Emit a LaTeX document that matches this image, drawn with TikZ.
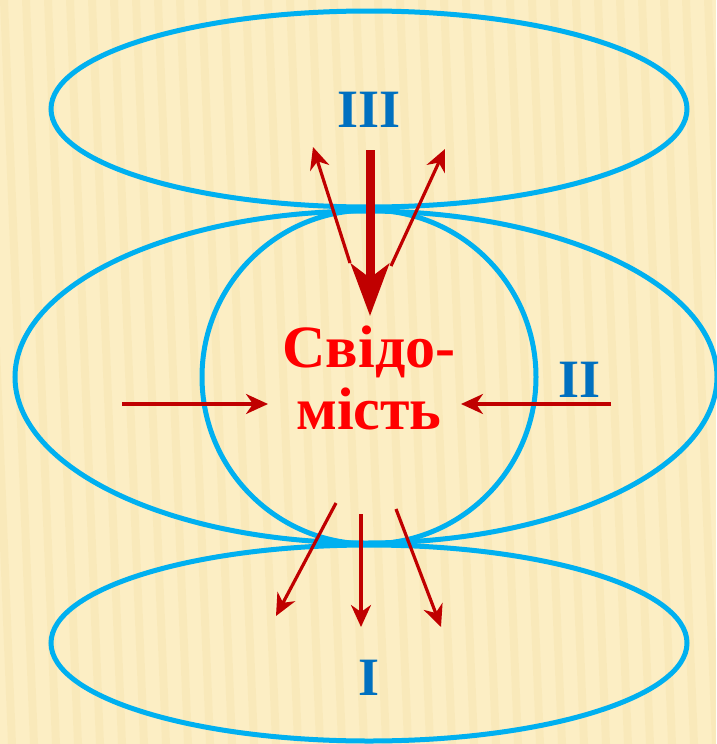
\documentclass[tikz,border=0pt]{standalone}
\usepackage{fontspec}
\setmainfont{Liberation Serif}
\usetikzlibrary{arrows.meta}
\definecolor{bg}{HTML}{FCEEC4}
\definecolor{stripe}{HTML}{F3DFA6}
\definecolor{ell}{HTML}{00B0F0}
\definecolor{arr}{HTML}{C00000}
\definecolor{roman}{HTML}{0070C0}
\definecolor{txt}{HTML}{FF0000}
\tikzset{
  ring/.style={draw=ell, line width=5pt},
  thinarrow/.style={draw=arr, line width=3.2pt, -{Stealth[length=22pt,width=20pt,inset=7pt]}},
  thickarrow/.style={draw=arr, line width=9pt, -{Stealth[length=52pt,width=38pt,inset=14pt]}},
  numeral/.style={font=\bfseries\fontsize{54}{54}\selectfont, text=roman, anchor=base, inner sep=0pt},
  mainlabel/.style={font=\bfseries\fontsize{60}{62}\selectfont, text=txt, anchor=base, inner sep=0pt}
}
\begin{document}
\begin{tikzpicture}[x=1pt,y=-1pt]
\fill[bg] (0,0) rectangle (716,744);
\useasboundingbox (0,0) rectangle (716,744);
\begin{scope}
\clip (0,0) rectangle (716,744);
\foreach \i in {-4,...,36} {
  \fill[stripe, opacity=0.3] (\i*22,0) -- (\i*22+8,0) -- (\i*22+8+30,744) -- (\i*22+30,744) -- cycle;
}
\end{scope}
% ellipses
\draw[ring] (369,109) ellipse [x radius=318, y radius=98];
\draw[ring] (366,377) ellipse [x radius=351, y radius=166];
\draw[ring] (369,377) ellipse [x radius=167, y radius=167];
\draw[ring] (369,643) ellipse [x radius=318, y radius=98];
% labels
\node[numeral] (n3) at (369,127) {III};
\node[numeral] (n2) at (580,397) {II};
\node[numeral] (n1) at (369,695) {I};
\node[mainlabel] (c1) at (369,367) {Свідо-};
\node[mainlabel] (c2) at (369,429) {мість};
% arrow coordinates
\coordinate (a1s) at (370,150); \coordinate (a1e) at (370,316);
\coordinate (a2s) at (350,263); \coordinate (a2e) at (313,147);
\coordinate (a3s) at (391,266); \coordinate (a3e) at (445,149);
\coordinate (a4s) at (122,404); \coordinate (a4e) at (268,404);
\coordinate (a5s) at (611,404); \coordinate (a5e) at (461,404);
\coordinate (a6s) at (336,503); \coordinate (a6e) at (276,616);
\coordinate (a7s) at (361,514); \coordinate (a7e) at (361,627);
\coordinate (a8s) at (396,509); \coordinate (a8e) at (441,627);
\draw[thinarrow] (a2s) -- (a2e);
\draw[thinarrow] (a3s) -- (a3e);
\draw[thickarrow] (a1s) -- (a1e);
\draw[thinarrow] (a4s) -- (a4e);
\draw[thinarrow] (a5s) -- (a5e);
\draw[thinarrow] (a6s) -- (a6e);
\draw[thinarrow] (a7s) -- (a7e);
\draw[thinarrow] (a8s) -- (a8e);
\end{tikzpicture}
\end{document}
